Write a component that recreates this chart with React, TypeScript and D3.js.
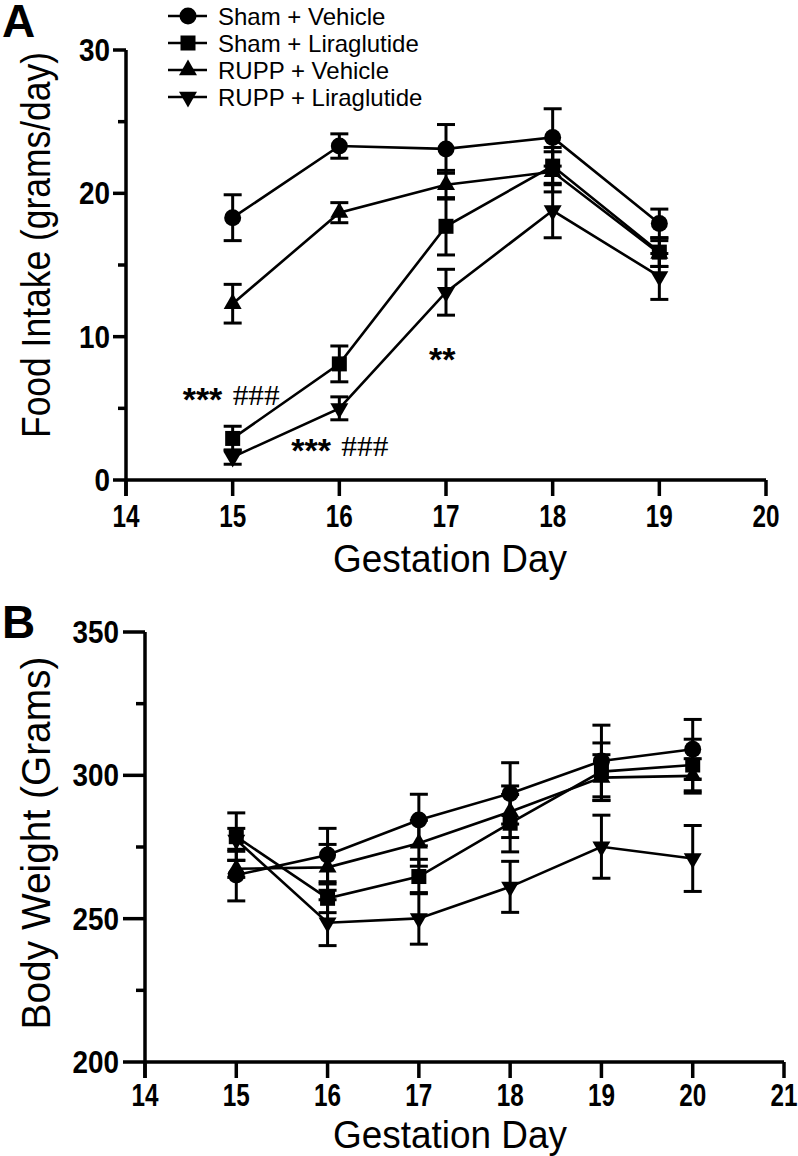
import React from "react";
import * as d3 from "d3";

// ---------- DATA ----------
const seriesNames = ["Sham + Vehicle", "Sham + Liraglutide", "RUPP + Vehicle", "RUPP + Liraglutide"];
const seriesShapes = ["circle", "square", "triUp", "triDown"];

// Panel A: food intake (grams/day)
const daysA = [15, 16, 17, 18, 19];
const foodShamVeh = [18.3, 23.3, 23.1, 23.9, 17.9];
const foodShamVehErr = [1.6, 0.85, 1.7, 2.0, 1.0];
const foodShamLira = [2.9, 8.1, 17.7, 21.9, 15.9];
const foodShamLiraErr = [0.85, 1.25, 2.0, 1.3, 1.0];
const foodRuppVeh = [12.3, 18.65, 20.6, 21.5, 15.8];
const foodRuppVehErr = [1.35, 0.7, 1.0, 1.4, 0.9];
const foodRuppLira = [1.6, 5.0, 13.1, 18.8, 14.2];
const foodRuppLiraErr = [0.5, 0.8, 1.6, 1.9, 1.6];

// Panel B: body weight (grams)
const daysB = [15, 16, 17, 18, 19, 20];
const bwShamVeh = [265.2, 272.2, 284.4, 293.7, 305.0, 309.1];
const bwShamVehErr = [9.0, 9.3, 9.0, 10.7, 12.5, 10.4];
const bwShamLira = [278.6, 257.1, 264.7, 283.3, 301.3, 303.6];
const bwShamLiraErr = [8.3, 5.0, 6.0, 10.0, 10.0, 9.0];
const bwRuppVeh = [267.4, 267.9, 276.3, 287.3, 299.2, 299.8];
const bwRuppVehErr = [3.0, 8.0, 8.0, 9.0, 8.0, 6.0];
const bwRuppLira = [277.5, 248.6, 250.1, 261.1, 275.1, 271.0];
const bwRuppLiraErr = [4.0, 8.0, 9.0, 8.9, 11.0, 11.5];

const xTicksA = [14, 15, 16, 17, 18, 19, 20];
const yTicksA = [0, 10, 20, 30];
const yMinorA = [5, 15, 25];
const xTicksB = [14, 15, 16, 17, 18, 19, 20, 21];
const yTicksB = [200, 250, 300, 350];
const yMinorB = [225, 275, 325];

// significance marks in panel A (anchored at a day / value, star text starts left of the day)
const annotationsA = [
  { day: 15, value: 5.79, dx: -50, stars: "***", hashes: "###" },
  { day: 16, value: 2.23, dx: -48, stars: "***", hashes: "###" },
  { day: 17, value: 8.58, dx: -17, stars: "**", hashes: "" },
];

// ---------- STYLE ----------
const SANS = "'Liberation Sans', Arial, Helvetica, sans-serif";
const SERIF = "'Liberation Serif', 'Times New Roman', serif";

function Marker({ shape, x, y }: { shape: string; x: number; y: number }) {
  if (shape === "circle") return <circle cx={x} cy={y} r={8.5} fill="#000" />;
  if (shape === "square") return <rect x={x - 7.5} y={y - 7.5} width={15} height={15} fill="#000" />;
  const sym = d3.symbol().type(d3.symbolTriangle).size(140)();
  const rot = shape === "triDown" ? 180 : 0;
  return <path d={sym || ""} transform={`translate(${x},${y}) rotate(${rot})`} fill="#000" />;
}

function Panel({
  days, series, errs, x, y, xTicks, yTicks, yMinor, yTitle, yTitleLen, yTitleCenter, titleY, titleX, letter, letterY,
  yLabelRight, majorLen, minorLen, xLabelDy,
}: any) {
  const [x0, x1] = x.range();
  const [y0, y1] = y.range();
  const line = d3.line<number>().x((_, i) => x(days[i])).y((v) => y(v));
  return (
    <g>
      {/* axes */}
      <line x1={x0} x2={x0} y1={y1} y2={y0 + 16} stroke="#000" strokeWidth={3.5} />
      <line x1={x0} x2={x1} y1={y0} y2={y0} stroke="#000" strokeWidth={3.5} />
      {xTicks.map((t: number) => (
        <g key={"xt" + t}>
          <line x1={x(t)} x2={x(t)} y1={y0} y2={y0 + 16} stroke="#000" strokeWidth={3.5} />
          <text
            x={x(t)}
            y={y0 + xLabelDy}
            textAnchor="middle"
            fontFamily={SANS}
            fontWeight="bold"
            fontSize={31}
            textLength={String(t).length * 13.5}
            lengthAdjust="spacingAndGlyphs"
          >
            {t}
          </text>
        </g>
      ))}
      {yTicks.map((t: number) => (
        <g key={"yt" + t}>
          <line x1={x0 - majorLen} x2={x0} y1={y(t)} y2={y(t)} stroke="#000" strokeWidth={3.5} />
          <text
            x={yLabelRight}
            y={y(t) + 11}
            textAnchor="end"
            fontFamily={SANS}
            fontWeight="bold"
            fontSize={31}
            textLength={String(t).length * 15.5}
            lengthAdjust="spacingAndGlyphs"
          >
            {t}
          </text>
        </g>
      ))}
      {yMinor.map((t: number) => (
        <line key={"ym" + t} x1={x0 - minorLen} x2={x0} y1={y(t)} y2={y(t)} stroke="#000" strokeWidth={3.5} />
      ))}
      {/* titles */}
      <text
        x={titleX}
        y={titleY}
        textAnchor="middle"
        fontFamily={SANS}
        fontSize={38}
        textLength={234}
        lengthAdjust="spacingAndGlyphs"
      >
        Gestation Day
      </text>
      <text
        transform={`translate(50,${yTitleCenter}) rotate(-90)`}
        textAnchor="middle"
        fontFamily={SANS}
        fontSize={40}
        textLength={yTitleLen}
        lengthAdjust="spacingAndGlyphs"
      >
        {yTitle}
      </text>
      <text x={2} y={letterY} fontFamily={SANS} fontWeight="bold" fontSize={46}>
        {letter}
      </text>
      {/* error bars */}
      {series.map((vals: number[], si: number) =>
        vals.map((v, i) => {
          const e = errs[si][i];
          const cx = x(days[i]);
          return (
            <g key={`e${si}-${i}`} stroke="#000" strokeWidth={3}>
              <line x1={cx} x2={cx} y1={y(v - e)} y2={y(v + e)} />
              <line x1={cx - 9} x2={cx + 9} y1={y(v - e)} y2={y(v - e)} />
              <line x1={cx - 9} x2={cx + 9} y1={y(v + e)} y2={y(v + e)} />
            </g>
          );
        })
      )}
      {/* lines */}
      {series.map((vals: number[], si: number) => (
        <path key={"l" + si} d={line(vals) || ""} fill="none" stroke="#000" strokeWidth={2.6} />
      ))}
      {/* markers */}
      {series.map((vals: number[], si: number) =>
        vals.map((v, i) => <Marker key={`m${si}-${i}`} shape={seriesShapes[si]} x={x(days[i])} y={y(v)} />)
      )}
    </g>
  );
}

export default function App() {
  const xA = d3.scaleLinear().domain([14, 20]).range([126, 766]);
  const yA = d3.scaleLinear().domain([0, 30]).range([480, 50]);
  const xB = d3.scaleLinear().domain([14, 21]).range([145, 784]);
  const yB = d3.scaleLinear().domain([200, 350]).range([1062, 632]);

  return (
    <svg
      width={798}
      height={1156}
      viewBox="0 0 798 1156"
      style={{ position: "absolute", left: 0, top: 0, background: "#fff" }}
    >
      <rect width={798} height={1156} fill="#fff" />
      <Panel
        days={daysA}
        series={[foodShamVeh, foodShamLira, foodRuppVeh, foodRuppLira]}
        errs={[foodShamVehErr, foodShamLiraErr, foodRuppVehErr, foodRuppLiraErr]}
        x={xA}
        y={yA}
        xTicks={xTicksA}
        yTicks={yTicksA}
        yMinor={yMinorA}
        yTitle="Food Intake (grams/day)"
        yTitleLen={386}
        yTitleCenter={245}
        titleY={572}
        titleX={450}
        letter="A"
        letterY={37}
        yLabelRight={110}
        majorLen={13}
        minorLen={8}
        xLabelDy={47}
      />
      <Panel
        days={daysB}
        series={[bwShamVeh, bwShamLira, bwRuppVeh, bwRuppLira]}
        errs={[bwShamVehErr, bwShamLiraErr, bwRuppVehErr, bwRuppLiraErr]}
        x={xB}
        y={yB}
        xTicks={xTicksB}
        yTicks={yTicksB}
        yMinor={yMinorB}
        yTitle="Body Weight (Grams)"
        yTitleLen={373}
        yTitleCenter={843}
        titleY={1148}
        titleX={450}
        letter="B"
        letterY={638}
        yLabelRight={119}
        majorLen={22}
        minorLen={9}
        xLabelDy={44}
      />
      {/* annotations */}
      {annotationsA.map((a, i) => {
        const sx = xA(a.day) + a.dx;
        const cy = yA(a.value);
        return (
          <g key={"an" + i}>
            <text x={sx} y={cy + 14} fontFamily={SANS} fontWeight="bold" fontSize={34}>
              {a.stars}
            </text>
            {a.hashes && (
              <text
                x={sx + 50}
                y={cy + 8}
                fontFamily={SERIF}
                fontSize={30}
                textLength={47}
                lengthAdjust="spacingAndGlyphs"
              >
                {a.hashes}
              </text>
            )}
          </g>
        );
      })}
      {/* legend */}
      {seriesNames.map((n, i) => {
        const cy = 16 + i * 27;
        return (
          <g key={"lg" + i}>
            <line x1={168} x2={207} y1={cy} y2={cy} stroke="#000" strokeWidth={2.6} />
            <Marker shape={seriesShapes[i]} x={188} y={cy} />
            <text x={218} y={cy + 8.5} fontFamily={SANS} fontSize={24}>
              {n}
            </text>
          </g>
        );
      })}
    </svg>
  );
}
